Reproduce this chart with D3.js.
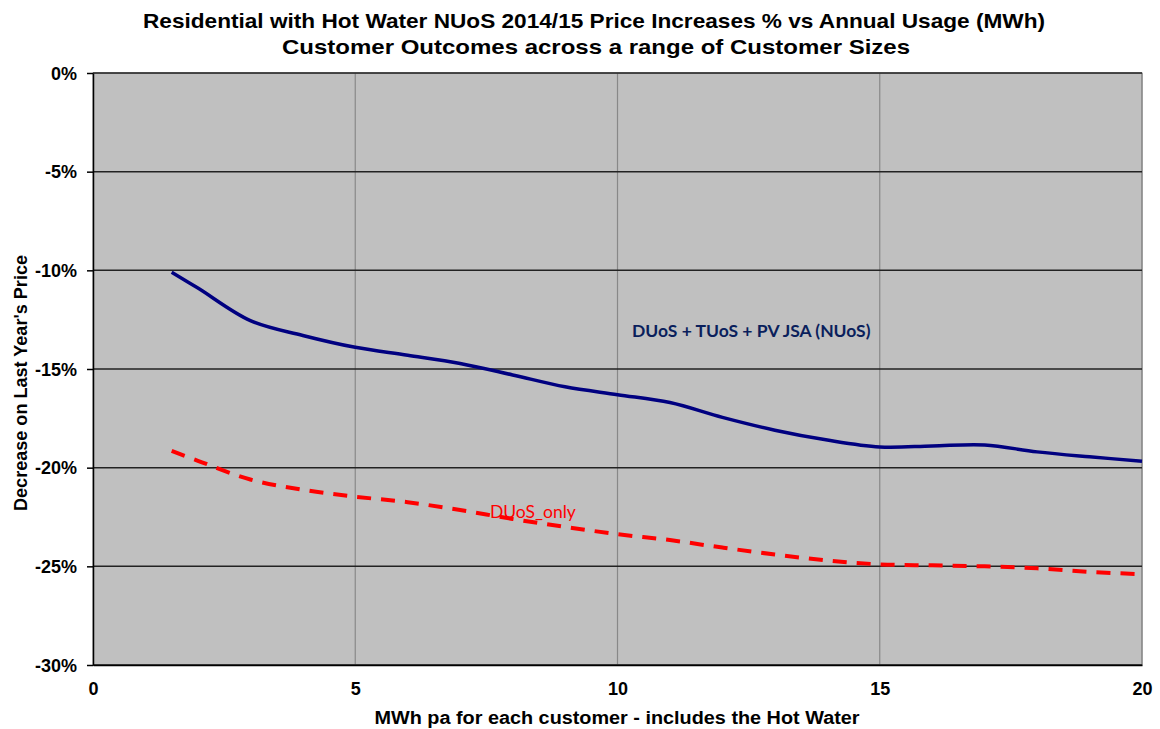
<!DOCTYPE html>
<html>
<head>
<meta charset="utf-8">
<script src="https://cdn.jsdelivr.net/npm/d3@7"></script>
<style>
  body { margin: 0; background: #fff; }
  svg text { font-family: "Liberation Sans", Arial, sans-serif; }
</style>
</head>
<body>
<div id="chart"></div>
<script>
// data
const usage = [1.5, 2, 3, 4, 5, 6, 7, 8, 9, 10, 11, 12, 13, 14, 15, 16, 17, 18, 19, 20];
const nuos = [-10.1, -10.9, -12.55, -13.3, -13.9, -14.3, -14.72, -15.3, -15.9, -16.3, -16.7, -17.45, -18.1, -18.6, -18.95, -18.9, -18.85, -19.2, -19.45, -19.67];
const duos = [-19.15, -19.65, -20.6, -21.12, -21.47, -21.75, -22.15, -22.6, -23.0, -23.37, -23.67, -24.05, -24.4, -24.7, -24.9, -24.95, -25.0, -25.1, -25.28, -25.4];
const xTicks = [0, 5, 10, 15, 20];
const yTicks = [0, -5, -10, -15, -20, -25, -30];

const W = 1160, H = 729;
const margin = { top: 73, right: 18, bottom: 64, left: 93 };
const width = W - margin.left - margin.right;
const height = H - margin.top - margin.bottom;

const svg = d3.select("#chart").append("svg")
    .attr("width", W)
    .attr("height", H);

// titles (squeezed like the original's narrow bold font)
svg.append("text")
    .attr("x", 594).attr("y", 28)
    .attr("text-anchor", "middle")
    .attr("textLength", 902).attr("lengthAdjust", "spacingAndGlyphs")
    .style("font-size", "21px").style("font-weight", "bold")
    .text("Residential with Hot Water NUoS 2014/15 Price Increases % vs Annual Usage (MWh)");
svg.append("text")
    .attr("x", 596).attr("y", 54)
    .attr("text-anchor", "middle")
    .attr("textLength", 628).attr("lengthAdjust", "spacingAndGlyphs")
    .style("font-size", "21px").style("font-weight", "bold")
    .text("Customer Outcomes across a range of Customer Sizes");

const g = svg.append("g")
    .attr("transform", `translate(${margin.left}, ${margin.top})`);

const x = d3.scaleLinear().domain([0, 20]).range([0, width]);
const y = d3.scaleLinear().domain([-30, 0]).range([height, 0]);

// plot background
g.append("rect")
    .attr("width", width).attr("height", height)
    .attr("fill", "#c0c0c0")
    .attr("stroke", "#808080");

// vertical gridlines
g.selectAll(".vgrid")
    .data(xTicks.slice(1))
    .enter().append("line")
    .attr("class", "vgrid")
    .attr("x1", d => x(d)).attr("x2", d => x(d))
    .attr("y1", 0).attr("y2", height)
    .attr("stroke", "#888").attr("stroke-width", 1.2);

// horizontal gridlines
g.selectAll(".hgrid")
    .data(yTicks)
    .enter().append("line")
    .attr("class", "hgrid")
    .attr("x1", 0).attr("x2", width)
    .attr("y1", d => y(d)).attr("y2", d => y(d))
    .attr("stroke", "#222").attr("stroke-width", 1.5);

// y axis
const yAxis = g.append("g")
    .call(d3.axisLeft(y).tickValues(yTicks).tickSize(6).tickSizeOuter(0).tickFormat(d => d + "%"));
yAxis.select(".domain").attr("stroke", "#000").attr("stroke-width", 1.5);
yAxis.selectAll(".tick line").attr("stroke", "#000").attr("stroke-width", 1.5);
yAxis.selectAll("text")
    .attr("x", -16).attr("dy", "0.35em")
    .style("font-size", "18px").style("font-weight", "bold")
    .style("font-family", "Liberation Sans, Arial, sans-serif")
    .attr("fill", "#000");

// x axis
const xAxis = g.append("g")
    .attr("transform", `translate(0, ${height})`)
    .call(d3.axisBottom(x).tickValues(xTicks).tickSize(0).tickSizeOuter(0));
xAxis.select(".domain").attr("stroke", "#000").attr("stroke-width", 1.5);
xAxis.selectAll("text")
    .attr("y", 17)
    .style("font-size", "18px").style("font-weight", "bold")
    .style("font-family", "Liberation Sans, Arial, sans-serif")
    .attr("fill", "#000");

// axis labels
svg.append("text")
    .attr("x", 617).attr("y", 724)
    .attr("text-anchor", "middle")
    .attr("textLength", 485).attr("lengthAdjust", "spacingAndGlyphs")
    .style("font-size", "18px").style("font-weight", "bold")
    .text("MWh pa for each customer - includes the Hot Water");
svg.append("text")
    .attr("transform", "rotate(-90)")
    .attr("x", -383).attr("y", 27)
    .attr("text-anchor", "middle")
    .attr("textLength", 256).attr("lengthAdjust", "spacingAndGlyphs")
    .style("font-size", "18px").style("font-weight", "bold")
    .text("Decrease on Last Year's Price");

// lines
const line = d3.line()
    .x(d => x(d[0]))
    .y(d => y(d[1]))
    .curve(d3.curveCatmullRom.alpha(0.5));

g.append("path")
    .datum(usage.map((u, i) => [u, duos[i]]))
    .attr("fill", "none")
    .attr("stroke", "#ff0000")
    .attr("stroke-width", 4)
    .attr("stroke-dasharray", "14,10")
    .attr("d", line);

g.append("path")
    .datum(usage.map((u, i) => [u, nuos[i]]))
    .attr("fill", "none")
    .attr("stroke", "#000080")
    .attr("stroke-width", 3.5)
    .attr("d", line);

// annotations
svg.append("text")
    .attr("x", 632).attr("y", 337)
    .style("font-family", "Lato, 'Open Sans', sans-serif")
    .style("font-size", "17.5px").style("font-weight", "bold")
    .attr("fill", "#0a1f5c")
    .text("DUoS + TUoS + PV JSA (NUoS)");
svg.append("text")
    .attr("x", 490).attr("y", 518)
    .style("font-family", "Lato, 'Open Sans', sans-serif")
    .style("font-size", "17.5px")
    .attr("fill", "#ff0000")
    .text("DUoS_only");
</script>
</body>
</html>
